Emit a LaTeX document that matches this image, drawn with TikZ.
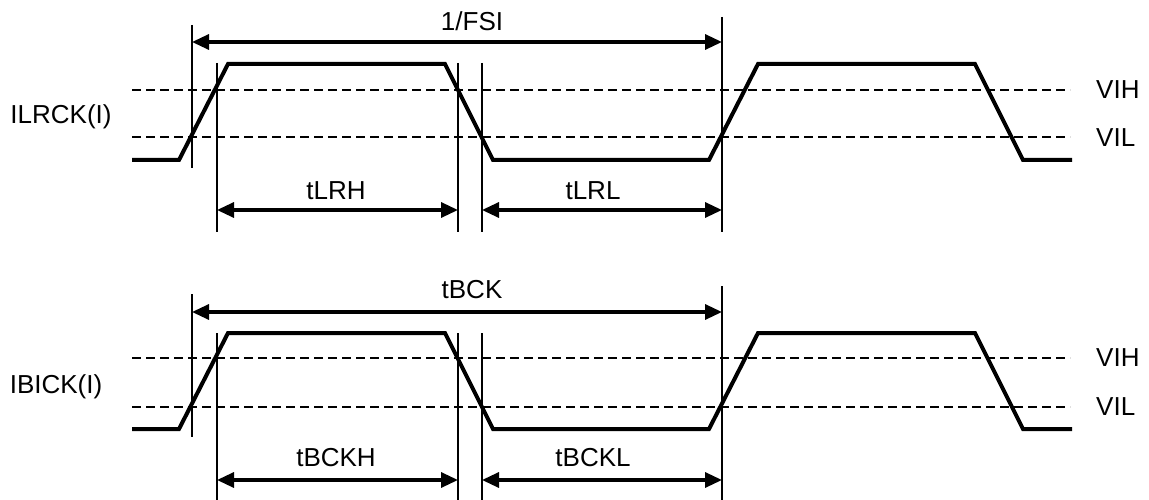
\documentclass[tikz,border=0pt]{standalone}
\usepackage{fontspec}
\setmainfont{Liberation Sans}
\usetikzlibrary{arrows.meta}
\begin{document}
\begin{tikzpicture}[x=1pt,y=-1pt,
  sig/.style={line width=4pt,line join=miter},
  thr/.style={line width=2.8pt,dash pattern=on 9pt off 5pt},
  guide/.style={line width=1.4pt},
  dim/.style={line width=3.3pt,{Triangle[length=17pt,width=15pt]}-{Triangle[length=17pt,width=15pt]}},
  lbl/.style={font=\fontsize{26}{30}\selectfont,inner sep=0pt}]
\useasboundingbox (0,0) rectangle (1149,500);

% ---------- top waveform ----------
\begin{scope}
\draw[thr] (132,90) -- (1070,90);
\draw[thr] (132,137) -- (1070,137);
\draw[sig] (132,160) -- (179,160) -- (228,64) -- (445,64) -- (493,160) -- (709,160) -- (758,64) -- (975,64) -- (1023,160) -- (1072,160);
\coordinate (aL1) at (192,42);  \coordinate (aR1) at (722,42);
\coordinate (hA) at (217,210); \coordinate (hB) at (458,210);
\coordinate (lA) at (482,210); \coordinate (lB) at (722,210);
\draw[guide] (192,25) -- (192,168);
\draw[guide] (217,63) -- (217,232);
\draw[guide] (458,63) -- (458,232);
\draw[guide] (482,63) -- (482,232);
\draw[guide] (722,17) -- (722,232);
\draw[dim] (aL1) -- (aR1);
\draw[dim] (hA) -- (hB);
\draw[dim] (lA) -- (lB);
\node[lbl] (fsi) at (472,21) {1/FSI};
\node[lbl] (tlrh) at (336,191) {tLRH};
\node[lbl] (tlrl) at (593,191) {tLRL};
\node[lbl] (ilrck) at (61,117) {ILRCK(I)};
\node[lbl,anchor=west] (vih1) at (1096,90) {VIH};
\node[lbl,anchor=west] (vil1) at (1096,138) {VIL};
\end{scope}

% ---------- bottom waveform ----------
\begin{scope}
\draw[thr] (132,358) -- (1070,358);
\draw[thr] (132,407) -- (1070,407);
\draw[sig] (132,429) -- (179,429) -- (228,333) -- (445,333) -- (493,429) -- (709,429) -- (758,333) -- (975,333) -- (1023,429) -- (1072,429);
\coordinate (aL2) at (192,312);  \coordinate (aR2) at (722,312);
\coordinate (bhA) at (217,480); \coordinate (bhB) at (458,480);
\coordinate (blA) at (482,480); \coordinate (blB) at (722,480);
\draw[guide] (192,294) -- (192,437);
\draw[guide] (217,333) -- (217,500);
\draw[guide] (458,333) -- (458,500);
\draw[guide] (482,333) -- (482,500);
\draw[guide] (722,286) -- (722,500);
\draw[dim] (aL2) -- (aR2);
\draw[dim] (bhA) -- (bhB);
\draw[dim] (blA) -- (blB);
\node[lbl] (tbck) at (472,290) {tBCK};
\node[lbl] (tbckh) at (336,458) {tBCKH};
\node[lbl] (tbckl) at (593,458) {tBCKL};
\node[lbl] (ibick) at (56,387) {IBICK(I)};
\node[lbl,anchor=west] (vih2) at (1096,358) {VIH};
\node[lbl,anchor=west] (vil2) at (1096,407) {VIL};
\end{scope}
\end{tikzpicture}
\end{document}
